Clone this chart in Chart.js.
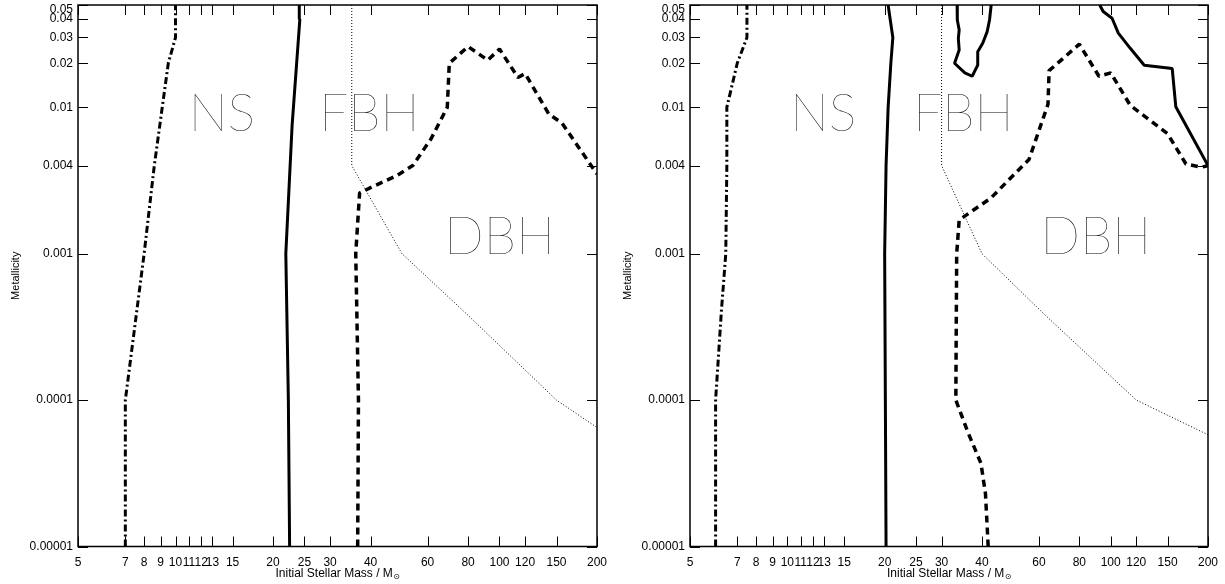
<!DOCTYPE html>
<html lang="en">
<head>
<meta charset="UTF-8">
<title>Remnant regions: initial mass vs metallicity</title>
<script src="https://cdn.jsdelivr.net/npm/chart.js@4"></script>
<style>
    body {
        margin: 0;
        background: #fff;
    }
    .panels {
        display: flex;
        width: 1225px;
        height: 584px;
    }
    canvas {
        display: block;
    }
</style>
</head>
<body>
<div class="panels">
    <canvas id="leftChart" width="612" height="584"></canvas>
    <canvas id="rightChart" width="613" height="584"></canvas>
</div>
<script>
    // Axis ticks
    const massTicks = [5, 7, 8, 9, 10, 11, 12, 13, 15, 20, 25, 30, 40, 60, 80, 100, 120, 150, 200];
    const metalTicks = [0.00001, 0.0001, 0.001, 0.004, 0.01, 0.02, 0.03, 0.04, 0.05];
    const metalLabels = ['0.00001', '0.0001', '0.001', '0.004', '0.01', '0.02', '0.03', '0.04', '0.05'];

    // Left panel boundaries (mass, metallicity)
    const leftNsMass = [7, 7, 8, 8.6, 9.1, 9.5, 10, 10, 10];
    const leftNsZ = [0.00001, 0.0001, 0.001, 0.004, 0.01, 0.02, 0.03, 0.04, 0.05];
    const leftFbhMass = [22.5, 22.3, 21.9, 22.9, 24.2, 24.1];
    const leftFbhZ = [0.00001, 0.0001, 0.001, 0.0075, 0.04, 0.05];
    const leftDbhMass = [36.5, 36.7, 36, 37, 41, 48, 54, 61.5, 69, 70, 80, 92, 100, 114, 120, 142, 156, 200];
    const leftDbhZ = [0.00001, 0.0001, 0.001, 0.0026, 0.0029, 0.0034, 0.004, 0.0061, 0.01, 0.02, 0.026, 0.021, 0.025, 0.016, 0.017, 0.009, 0.0078, 0.0035];
    const leftDotMass = [35, 35, 50, 78, 150, 200];
    const leftDotZ = [0.05, 0.004, 0.001, 0.0004, 0.0001, 0.000065];

    // Right panel boundaries (mass, metallicity)
    const rightNsMass = [6.0, 6.0, 6.25, 6.45, 6.5, 6.5, 7.0, 7.5, 7.5, 7.5];
    const rightNsZ = [0.00001, 0.0001, 0.0004, 0.001, 0.004, 0.01, 0.02, 0.03, 0.04, 0.05];
    const rightFbhMass = [20.2, 20.1, 20.0, 20.2, 20.5, 20.9, 21.2, 20.8, 20.5];
    const rightFbhZ = [0.00001, 0.0001, 0.001, 0.004, 0.01, 0.02, 0.03, 0.04, 0.05];
    const rightIslandMass = [33.5, 33.6, 33.5, 34.0, 33.8, 34.0, 32.9, 35.4, 37.3, 38.8, 38.8, 40.2, 41.5, 42.2, 42.7];
    const rightIslandZ = [0.05, 0.044, 0.0395, 0.0338, 0.0296, 0.0246, 0.02, 0.0172, 0.0163, 0.0194, 0.024, 0.0274, 0.0329, 0.0395, 0.05];
    const rightUpperMass = [92.5, 94.8, 101, 105.6, 115, 127, 155, 159, 200];
    const rightUpperZ = [0.05, 0.0451, 0.0406, 0.0321, 0.0253, 0.0194, 0.0184, 0.0101, 0.004];
    const rightDbhMass = [41.8, 41.0, 39.7, 36.1, 33.2, 33.4, 34, 42.6, 55.9, 64, 64.5, 80, 92, 100, 115, 150, 171, 191, 200];
    const rightDbhZ = [0.00001, 0.000023, 0.000037, 0.000061, 0.0001, 0.001, 0.0017, 0.0024, 0.0044, 0.0105, 0.0178, 0.027, 0.0163, 0.0172, 0.0103, 0.0066, 0.0041, 0.0039, 0.004];
    const rightDotMass = [30, 30, 40, 62, 120, 200];
    const rightDotZ = [0.05, 0.004, 0.001, 0.00039, 0.0001, 0.000058];

    // Region names and where they sit (centre mass, baseline metallicity)
    const regionNames = ['NS', 'FBH', 'DBH'];
    const leftRegionMass = [13.9, 39.6, 100];
    const leftRegionZ = [0.0069, 0.0069, 0.001];
    const rightRegionMass = [12.9, 35, 90];
    const rightRegionZ = [0.0069, 0.0069, 0.001];

    const xTitle = 'Initial Stellar Mass / M';
    const sunSymbol = '\u2299';
    const yTitle = 'Metallicity';

    const labelFont = '12px "Liberation Sans", Arial, sans-serif';
    const tickFont = { family: '"Liberation Sans", Arial, sans-serif', size: 12 };

    const styles = {
        dashdot: { borderWidth: 3, borderDash: [7, 3, 2, 3] },
        solid: { borderWidth: 3, borderDash: [] },
        dashed: { borderWidth: 3.5, borderDash: [7, 5] },
        dotted: { borderWidth: 1, borderDash: [1, 2] }
    };

    function toPoints(mass, z) {
        return mass.map((m, i) => ({ x: m, y: z[i] }));
    }

    function line(mass, z, style) {
        return Object.assign({
            data: toPoints(mass, z),
            showLine: true,
            borderColor: '#000',
            pointRadius: 0,
            tension: 0,
            fill: false,
            borderCapStyle: 'butt',
            borderJoinStyle: 'bevel'
        }, styles[style]);
    }

    // Frame, inward ticks, metallicity labels, region names and axis titles
    const framePlugin = {
        id: 'frame',
        afterDatasetsDraw(chart, args, opts) {
            const ctx = chart.ctx;
            const a = chart.chartArea;
            const xs = chart.scales.x;
            const ys = chart.scales.y;
            ctx.save();

            // ticks
            ctx.strokeStyle = '#000';
            ctx.lineWidth = 1;
            ctx.beginPath();
            massTicks.forEach(v => {
                const px = Math.round(xs.getPixelForValue(v)) + 0.5;
                ctx.moveTo(px, a.bottom);
                ctx.lineTo(px, a.bottom - 10);
                ctx.moveTo(px, a.top);
                ctx.lineTo(px, a.top + 10);
            });
            metalTicks.forEach(v => {
                const py = Math.round(ys.getPixelForValue(v)) + 0.5;
                ctx.moveTo(a.left, py);
                ctx.lineTo(a.left + 10, py);
                ctx.moveTo(a.right, py);
                ctx.lineTo(a.right - 10, py);
            });
            ctx.stroke();

            // frame
            ctx.lineWidth = 1.5;
            ctx.strokeRect(a.left, a.top, a.right - a.left, a.bottom - a.top);

            // metallicity labels, the top one kept inside the canvas
            ctx.fillStyle = '#000';
            ctx.font = labelFont;
            ctx.textAlign = 'right';
            ctx.textBaseline = 'middle';
            metalTicks.forEach((v, i) => {
                const py = Math.max(ys.getPixelForValue(v), a.top + 5);
                ctx.fillText(metalLabels[i], a.left - 5, py);
            });

            // region names
            ctx.fillStyle = '#000';
            ctx.font = '100 52px Lato';
            ctx.textAlign = 'center';
            ctx.textBaseline = 'alphabetic';
            opts.names.forEach((name, i) => {
                ctx.fillText(name, xs.getPixelForValue(opts.mass[i]), ys.getPixelForValue(opts.z[i]));
            });

            // x title with the solar subscript
            ctx.font = labelFont;
            const mainW = ctx.measureText(xTitle).width;
            ctx.font = '8px "DejaVu Sans", sans-serif';
            const sunW = ctx.measureText(sunSymbol).width;
            const x0 = (a.left + a.right) / 2 - (mainW + sunW) / 2;
            ctx.textAlign = 'left';
            ctx.font = labelFont;
            ctx.fillText(xTitle, x0, 577);
            ctx.font = '8px "DejaVu Sans", sans-serif';
            ctx.fillText(sunSymbol, x0 + mainW + 0.5, 579);

            // y title
            ctx.font = '11px "Liberation Sans", Arial, sans-serif';
            ctx.translate(19, (a.top + a.bottom) / 2);
            ctx.rotate(-Math.PI / 2);
            ctx.textAlign = 'center';
            ctx.fillText(yTitle, 0, 0);
            ctx.restore();
        }
    };

    function makeChart(id, datasets, names, mass, z, rightPad) {
        return new Chart(document.getElementById(id), {
            type: 'scatter',
            data: { datasets: datasets },
            options: {
                responsive: false,
                animation: false,
                events: [],
                layout: { padding: { top: 5, right: rightPad, left: 0, bottom: 0 } },
                plugins: {
                    legend: { display: false },
                    tooltip: { enabled: false },
                    frame: { names: names, mass: mass, z: z }
                },
                scales: {
                    x: {
                        type: 'logarithmic',
                        min: 5,
                        max: 200,
                        afterBuildTicks: s => { s.ticks = massTicks.map(v => ({ value: v })); },
                        afterFit: s => { s.height = 37.5; s.paddingLeft = 0; s.paddingRight = 0; },
                        grid: { display: false },
                        border: { display: false },
                        ticks: {
                            autoSkip: false,
                            maxRotation: 0,
                            minRotation: 0,
                            padding: 1,
                            color: '#000',
                            font: tickFont,
                            callback: (v, i) => String(massTicks[i])
                        }
                    },
                    y: {
                        type: 'logarithmic',
                        min: 0.00001,
                        max: 0.05,
                        afterBuildTicks: s => { s.ticks = metalTicks.map(v => ({ value: v })); },
                        afterFit: s => { s.width = 78; s.paddingTop = 0; s.paddingBottom = 0; },
                        grid: { display: false },
                        border: { display: false },
                        ticks: { display: false }
                    }
                }
            },
            plugins: [framePlugin]
        });
    }

    makeChart('leftChart', [
        line(leftNsMass, leftNsZ, 'dashdot'),
        line(leftFbhMass, leftFbhZ, 'solid'),
        line(leftDbhMass, leftDbhZ, 'dashed'),
        line(leftDotMass, leftDotZ, 'dotted')
    ], regionNames, leftRegionMass, leftRegionZ, 15);

    makeChart('rightChart', [
        line(rightNsMass, rightNsZ, 'dashdot'),
        line(rightFbhMass, rightFbhZ, 'solid'),
        line(rightIslandMass, rightIslandZ, 'solid'),
        line(rightUpperMass, rightUpperZ, 'solid'),
        line(rightDbhMass, rightDbhZ, 'dashed'),
        line(rightDotMass, rightDotZ, 'dotted')
    ], regionNames, rightRegionMass, rightRegionZ, 17);
</script>
</body>
</html>
